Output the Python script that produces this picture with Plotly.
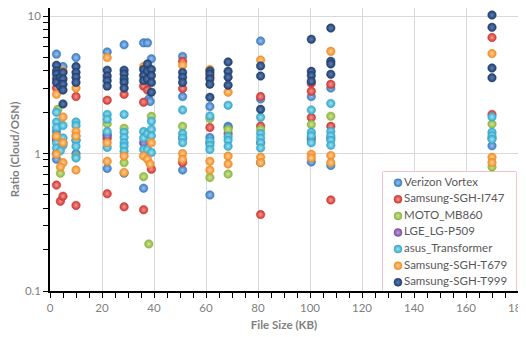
import plotly.graph_objects as go

# ---- data (file size in KB, ratio Cloud/OSN) ----
series_names = ["Verizon Vortex", "Samsung-SGH-I747", "MOTO_MB860", "LGE_LG-P509",
                "asus_Transformer", "Samsung-SGH-T679", "Samsung-SGH-T999"]

verizon_x = [2.5, 5, 2.5, 2.5, 5, 10, 22, 22, 22, 28.5, 28.5, 36, 37.5, 39, 38, 38.5, 36,
             51, 51, 51, 61.5, 61.5, 61.5, 68.5, 68.5, 81, 81, 81, 100.5, 100.5, 108, 108, 170, 2.5, 10]
verizon_y = [5.3, 4.3, 1.45, 0.91, 1.2, 5.0, 5.5, 1.38, 0.78, 6.2, 0.72, 6.4, 6.4, 4.9, 2.5, 2.4, 0.56,
             5.1, 2.6, 0.76, 2.2, 1.31, 0.5, 1.58, 1.55, 6.6, 2.5, 0.86, 2.6, 0.87, 3.0, 0.82, 1.14, 1.0, 1.0]

i747_x = [2.5, 2.5, 4, 5, 10, 10, 22, 22, 22, 28.5, 28.5, 36, 37.5, 36, 39, 36, 51, 51, 51,
          61.5, 61.5, 81, 81, 81, 100.5, 100.5, 100.5, 108, 108, 108, 170, 170, 68.5, 2.5]
i747_y = [3.0, 0.59, 0.45, 0.49, 2.6, 0.42, 2.45, 1.29, 0.51, 2.7, 0.41, 3.1, 2.9, 2.37, 0.77, 0.39,
          4.7, 2.98, 0.86, 1.55, 3.6, 2.6, 1.59, 0.36, 3.25, 2.85, 1.83, 3.2, 1.58, 0.46, 7.0, 1.93, 1.4, 1.25]

moto_x = [3, 4, 10, 22, 28.5, 28.5, 39, 36, 38, 51, 61.5, 61.5, 68.5, 68.5, 81, 100.5, 100.5,
          108, 170, 170, 37]
moto_y = [2.1, 0.72, 0.95, 1.65, 1.53, 0.86, 1.87, 0.68, 0.22, 1.58, 0.67, 1.8, 1.5, 0.71, 1.5,
          1.63, 1.25, 1.87, 1.64, 0.8, 1.0]

lge_x = [2.5, 22, 36, 51, 61.5, 81, 100.5, 108, 170, 10]
lge_y = [1.3, 1.35, 1.2, 1.3, 1.2, 1.2, 1.3, 1.3, 1.3, 1.25]

asus_x = [2.5, 2.5, 2.5, 2.5, 2.5, 2.5, 5, 5, 5, 4, 10, 10, 10, 10, 10, 10, 22, 22, 22, 22,
          28.5, 28.5, 28.5, 28.5, 28.5, 28.5, 36, 36, 36, 37.5, 37.5, 39, 39, 39, 39,
          51, 51, 51, 51, 61.5, 61.5, 61.5, 61.5, 68.5, 68.5, 68.5, 68.5,
          81, 81, 81, 81, 81, 100.5, 100.5, 100.5, 100.5, 108, 108, 108, 108, 108,
          170, 170, 170, 170]
asus_y = [2.0, 1.7, 1.55, 1.35, 1.2, 1.1, 1.6, 1.3, 1.15, 1.05, 1.7, 1.6, 1.35, 1.25, 1.13, 0.93,
          1.93, 1.78, 1.45, 1.11, 1.93, 1.43, 1.31, 1.2, 1.13, 1.04, 1.45, 1.3, 1.07, 1.4, 1.07,
          1.72, 1.5, 1.35, 1.02, 2.08, 1.4, 1.3, 1.2, 1.88, 1.23, 1.15, 1.07, 2.25, 1.33, 1.25, 1.13,
          1.84, 1.4, 1.3, 1.2, 1.1, 2.08, 1.43, 1.35, 1.2, 2.32, 1.45, 1.35, 1.25, 1.15,
          1.85, 1.43, 1.35, 1.27]

t679_x = [5, 2.5, 5, 2.5, 5, 2.5, 5, 4, 10, 10, 10, 10, 22, 22, 22, 28.5, 28.5, 36, 39, 36, 37.5,
          38.5, 51, 51, 51, 61.5, 61.5, 61.5, 68.5, 68.5, 68.5, 81, 81, 81, 100.5, 100.5,
          108, 108, 108, 170, 170, 170]
t679_y = [4.0, 2.7, 1.85, 1.34, 1.2, 0.99, 0.86, 0.8, 3.0, 1.45, 1.34, 0.76, 5.0, 1.2, 0.88, 0.96,
          0.73, 4.3, 1.2, 0.96, 0.91, 0.84, 4.4, 1.0, 0.91, 4.1, 0.88, 0.76, 2.8, 0.96, 0.84,
          4.8, 0.94, 0.86, 0.99, 0.93, 5.55, 0.97, 0.86, 5.35, 0.94, 0.86]

t999_x = [2.5, 2.5, 2.5, 2.5, 2.5, 4, 4, 5, 5, 5, 5, 5, 10, 10, 10, 10, 22, 22, 22, 22,
          28.5, 28.5, 28.5, 28.5, 28.5, 36, 36, 36, 37.5, 37.5, 37.5, 39, 39, 39, 39,
          51, 51, 51, 61.5, 61.5, 61.5, 61.5, 61.5, 68.5, 68.5, 68.5, 68.5, 81, 81, 81,
          100.5, 100.5, 100.5, 100.5, 108, 108, 108, 108, 170, 170, 170, 170]
t999_y = [4.4, 4.0, 3.8, 3.5, 3.3, 3.6, 3.1, 3.9, 3.5, 3.2, 2.9, 2.3, 4.3, 3.9, 3.6, 3.3,
          4.05, 3.67, 3.4, 3.1, 4.05, 3.8, 3.5, 3.3, 3.0, 4.1, 3.7, 3.4, 4.5, 4.0, 3.5,
          4.1, 3.7, 3.3, 2.8, 3.9, 3.6, 3.3, 4.0, 3.8, 3.5, 3.2, 2.57, 4.65, 3.97, 3.6, 3.15,
          4.35, 3.67, 2.1, 6.8, 3.97, 3.7, 3.37, 8.2, 4.7, 4.5, 3.78, 10.2, 8.3, 4.2, 3.57]

x_ticks = [0, 20, 40, 60, 80, 100, 120, 140, 160, 180]
y_ticks = [0.1, 1, 10]
y_tick_labels = ["0.1", "1", "10"]

# ---- styling ----
colors = ["#3A7CC3", "#CF3530", "#8DB53E", "#7A4E9E", "#33A8CA", "#F08C24", "#1F3E6E"]
highlights = ["#9CC3EE", "#F39A96", "#CDE59A", "#BFA2DA", "#A2E0F1", "#FFD19A", "#5E7FB5"]

xs = [verizon_x, i747_x, moto_x, lge_x, asus_x, t679_x, t999_x]
ys = [verizon_y, i747_y, moto_y, lge_y, asus_y, t679_y, t999_y]

FONT = "Lato, 'Open Sans', sans-serif"
GREY = "#7F7F7F"

fig = go.Figure()
for name, x, y, c, h in zip(series_names, xs, ys, colors, highlights):
    fig.add_trace(go.Scatter(
        x=x, y=y, mode="markers", name=name, showlegend=False,
        marker=dict(size=8.5, color=c, line=dict(width=0.5, color=c),
                    gradient=dict(type="radial", color=h)),
    ))

# ---- legend, drawn as a compact key panel (overlay axes) ----
LEG_X0, LEG_X1, LEG_Y0, LEG_Y1 = 0.7115, 0.9957, 0.0, 0.4205
for i, (name, c, h) in enumerate(zip(series_names, colors, highlights)):
    fig.add_trace(go.Scatter(
        x=[15], y=[i], xaxis="x2", yaxis="y2", mode="markers+text",
        text=[name], textposition="middle right", showlegend=False, hoverinfo="skip",
        textfont=dict(family=FONT, size=11.5, color="#595959"),
        marker=dict(size=8, color=c, line=dict(width=0.5, color=c),
                    gradient=dict(type="radial", color=h)),
        cliponaxis=False,
    ))

fig.add_shape(type="rect", xref="paper", yref="paper",
              x0=LEG_X0, x1=LEG_X1, y0=LEG_Y0, y1=LEG_Y1,
              line=dict(color="#DE8B8B", width=1), fillcolor="white", layer="between")

# the page body adds an 8px offset, so the figure is sized to fill the rest of the window
fig.update_layout(
    width=518, height=329,
    margin=dict(l=42, r=8, t=0, b=46),
    paper_bgcolor="white", plot_bgcolor="white",
    font=dict(family=FONT, color=GREY, size=11),
    showlegend=False,
    xaxis=dict(
        range=[0, 180], tickvals=x_ticks, automargin=False, ticklabeloverflow="allow",
        showgrid=True, gridcolor="#D9D9D9", gridwidth=1,
        showline=True, linecolor="black", linewidth=1.5,
        ticks="outside", ticklen=5, tickcolor="black",
        minor=dict(dtick=5, ticks="outside", ticklen=5, tickcolor="black", showgrid=False),
        tickfont=dict(size=11.5, color=GREY), zeroline=False,
        title=dict(text="<b>File Size (KB)</b>", font=dict(size=11.5, color=GREY), standoff=8),
    ),
    yaxis=dict(
        type="log", range=[-1, 1.06], tickvals=y_ticks, ticktext=y_tick_labels, automargin=False,
        showgrid=True, gridcolor="#D9D9D9", gridwidth=1,
        showline=True, linecolor="black", linewidth=1.5,
        ticks="outside", ticklen=5, tickcolor="black",
        minor=dict(dtick="D1", ticks="outside", ticklen=5, tickcolor="black", showgrid=False),
        tickfont=dict(size=11.5, color=GREY), zeroline=False,
        title=dict(text="<b>Ratio (Cloud/OSN)</b>", font=dict(size=11.5, color=GREY), standoff=9),
    ),
    xaxis2=dict(domain=[LEG_X0, LEG_X1], range=[0, 133], anchor="y2",
                visible=False, fixedrange=True),
    yaxis2=dict(domain=[LEG_Y0, LEG_Y1], range=[6.524, -0.645], anchor="x2",
                visible=False, fixedrange=True),
)

fig.write_html("out.html")
